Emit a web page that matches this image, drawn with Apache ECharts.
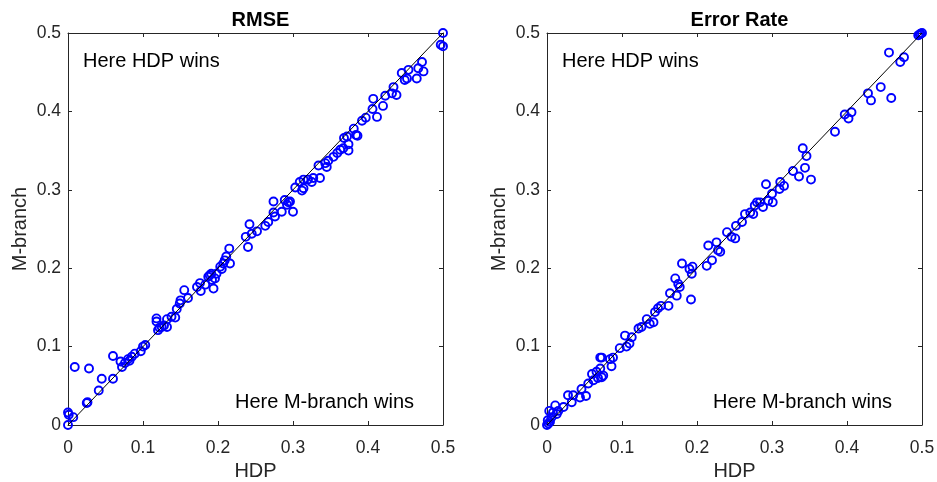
<!DOCTYPE html>
<html>
<head>
<meta charset="utf-8">
<script src="https://cdn.jsdelivr.net/npm/echarts@6/dist/echarts.min.js"></script>
<style>
html,body{margin:0;padding:0;background:#fff;}
#chart{width:937px;height:482px;}
</style>
</head>
<body>
<div id="chart"></div>
<script>
// ---------- DATA ----------
const titles = ["RMSE", "Error Rate"];
const xName = "HDP";
const yName = "M-branch";
const noteHDP = "Here HDP wins";
const noteMB = "Here M-branch wins";
const axisMin = 0, axisMax = 0.5, axisStep = 0.1;
const diagonal = [0, 0.5];

const rmseHDP = [0.000,0.000,0.001,0.007,0.009,0.028,0.025,0.026,0.041,0.045,0.060,0.060,0.070,0.072,0.076,0.080,0.082,0.085,0.089,0.097,0.100,0.103,0.118,0.118,0.120,0.122,0.125,0.128,0.132,0.132,0.138,0.143,0.145,0.149,0.150,0.155,0.160,0.172,0.176,0.177,0.183,0.187,0.189,0.191,0.192,0.194,0.196,0.198,0.203,0.205,0.207,0.209,0.211,0.215,0.216,0.237,0.240,0.242,0.245,0.252,0.263,0.267,0.274,0.274,0.276,0.285,0.289,0.292,0.294,0.296,0.300,0.303,0.309,0.312,0.314,0.314,0.320,0.325,0.327,0.334,0.336,0.343,0.345,0.347,0.354,0.359,0.363,0.367,0.368,0.372,0.374,0.374,0.381,0.384,0.386,0.392,0.397,0.406,0.407,0.412,0.420,0.423,0.432,0.434,0.438,0.445,0.449,0.452,0.454,0.465,0.467,0.472,0.474,0.497,0.500,0.500];
const rmseMB  = [0.000,0.016,0.013,0.010,0.074,0.072,0.028,0.029,0.044,0.059,0.059,0.088,0.081,0.074,0.079,0.084,0.082,0.087,0.091,0.094,0.100,0.102,0.136,0.132,0.121,0.124,0.125,0.127,0.125,0.135,0.138,0.137,0.148,0.155,0.159,0.172,0.162,0.176,0.181,0.171,0.179,0.189,0.191,0.193,0.185,0.174,0.187,0.193,0.202,0.199,0.206,0.210,0.215,0.225,0.206,0.240,0.227,0.256,0.244,0.247,0.254,0.259,0.285,0.271,0.266,0.272,0.287,0.281,0.284,0.285,0.272,0.303,0.310,0.299,0.302,0.313,0.313,0.310,0.315,0.331,0.315,0.334,0.329,0.337,0.342,0.347,0.351,0.353,0.366,0.368,0.358,0.350,0.378,0.370,0.369,0.388,0.392,0.403,0.416,0.393,0.407,0.420,0.423,0.431,0.421,0.449,0.440,0.442,0.453,0.442,0.455,0.463,0.451,0.485,0.483,0.500];

const errHDP = [0.000,0.002,0.004,0.001,0.003,0.006,0.008,0.011,0.013,0.015,0.022,0.028,0.033,0.035,0.044,0.046,0.052,0.055,0.060,0.062,0.066,0.068,0.071,0.073,0.075,0.071,0.073,0.084,0.086,0.088,0.097,0.104,0.106,0.110,0.113,0.122,0.126,0.133,0.137,0.142,0.144,0.148,0.152,0.162,0.164,0.171,0.173,0.175,0.177,0.180,0.190,0.193,0.192,0.194,0.213,0.215,0.220,0.226,0.228,0.231,0.240,0.246,0.252,0.251,0.260,0.264,0.271,0.275,0.277,0.280,0.284,0.288,0.292,0.295,0.300,0.301,0.310,0.311,0.316,0.328,0.336,0.341,0.344,0.346,0.352,0.384,0.397,0.402,0.406,0.428,0.432,0.445,0.459,0.456,0.471,0.476,0.495,0.497,0.498,0.500];
const errMB  = [0.000,0.002,0.004,0.006,0.018,0.010,0.016,0.025,0.014,0.018,0.023,0.038,0.029,0.038,0.035,0.046,0.037,0.053,0.065,0.057,0.068,0.060,0.072,0.061,0.063,0.086,0.086,0.084,0.075,0.086,0.098,0.114,0.100,0.104,0.112,0.123,0.125,0.135,0.129,0.131,0.144,0.149,0.152,0.152,0.168,0.187,0.165,0.180,0.176,0.206,0.199,0.193,0.160,0.202,0.203,0.229,0.210,0.233,0.223,0.221,0.246,0.240,0.254,0.238,0.259,0.269,0.271,0.269,0.280,0.284,0.284,0.278,0.307,0.286,0.295,0.284,0.301,0.310,0.305,0.324,0.317,0.353,0.328,0.343,0.313,0.374,0.396,0.391,0.399,0.423,0.414,0.431,0.417,0.475,0.463,0.469,0.497,0.498,0.499,0.500];

// ---------- CHART ----------
const FONT = "'Liberation Sans', Arial, Helvetica, sans-serif";
const AX = "#262626";
const zip = (a, b) => a.map((v, i) => [v, b[i]]);

const grids = [
  {left: 68, top: 33, width: 375, height: 392, containLabel: false, outerBoundsMode: 'none'},
  {left: 547, top: 33, width: 375, height: 392, containLabel: false, outerBoundsMode: 'none'}
];

function mkX(gi, pos, labels) {
  return {
    type: 'value', gridIndex: gi, position: pos, min: axisMin, max: axisMax, interval: axisStep,
    axisLine: {show: true, onZero: false, lineStyle: {color: AX, width: 1}},
    axisTick: {show: true, inside: true, length: 4, lineStyle: {color: AX}},
    splitLine: {show: false},
    axisLabel: {show: labels, color: AX, fontSize: 17.5, fontFamily: FONT, margin: 14},
    name: labels ? xName : '', nameLocation: 'middle', nameGap: 33,
    nameTextStyle: {color: AX, fontSize: 20, fontFamily: FONT}
  };
}
function mkY(gi, pos, labels) {
  return {
    type: 'value', gridIndex: gi, position: pos, min: axisMin, max: axisMax, interval: axisStep,
    axisLine: {show: true, onZero: false, lineStyle: {color: AX, width: 1}},
    axisTick: {show: true, inside: true, length: 4, lineStyle: {color: AX}},
    splitLine: {show: false},
    axisLabel: {show: labels, color: AX, fontSize: 17.5, fontFamily: FONT, margin: 7},
    name: labels ? yName : '', nameLocation: 'middle', nameGap: 38,
    nameTextStyle: {color: AX, fontSize: 20, fontFamily: FONT}
  };
}

const xAxes = [mkX(0,'bottom',true), mkX(0,'top',false), mkX(1,'bottom',true), mkX(1,'top',false)];
const yAxes = [mkY(0,'left',true), mkY(0,'right',false), mkY(1,'left',true), mkY(1,'right',false)];

const scatterStyle = {color: 'rgba(0,0,0,0)', borderColor: '#0000ff', borderWidth: 1.9, opacity: 1};
const diagData = diagonal.map(v => [v, v]);

const option = {
  backgroundColor: '#fff',
  animation: false,
  title: [
    {text: titles[0], left: 255.5, top: 5, textAlign: 'center',
     textStyle: {fontSize: 20, fontWeight: 'bold', color: '#000', fontFamily: FONT}},
    {text: titles[1], left: 734.5, top: 5, textAlign: 'center',
     textStyle: {fontSize: 20, fontWeight: 'bold', color: '#000', fontFamily: FONT}}
  ],
  grid: grids,
  xAxis: xAxes,
  yAxis: yAxes,
  series: [
    {type: 'scatter', xAxisIndex: 0, yAxisIndex: 0, data: zip(rmseHDP, rmseMB),
     symbol: 'circle', symbolSize: 8, itemStyle: scatterStyle, z: 2},
    {type: 'line', xAxisIndex: 0, yAxisIndex: 0, data: diagData, symbol: 'none',
     lineStyle: {color: '#000', width: 1}, z: 3},
    {type: 'scatter', xAxisIndex: 2, yAxisIndex: 2, data: zip(errHDP, errMB),
     symbol: 'circle', symbolSize: 8, itemStyle: scatterStyle, z: 2},
    {type: 'line', xAxisIndex: 2, yAxisIndex: 2, data: diagData, symbol: 'none',
     lineStyle: {color: '#000', width: 1}, z: 3}
  ],
  graphic: [
    {type: 'text', left: 83, top: 51, style: {text: noteHDP, fontSize: 20, fontFamily: FONT, fill: '#000'}},
    {type: 'text', right: 937 - 414, top: 392, style: {text: noteMB, fontSize: 20, fontFamily: FONT, fill: '#000'}},
    {type: 'text', left: 562, top: 51, style: {text: noteHDP, fontSize: 20, fontFamily: FONT, fill: '#000'}},
    {type: 'text', right: 937 - 892, top: 392, style: {text: noteMB, fontSize: 20, fontFamily: FONT, fill: '#000'}}
  ]
};

const chart = echarts.init(document.getElementById('chart'), null, {renderer: 'canvas'});
chart.setOption(option);
</script>
</body>
</html>
